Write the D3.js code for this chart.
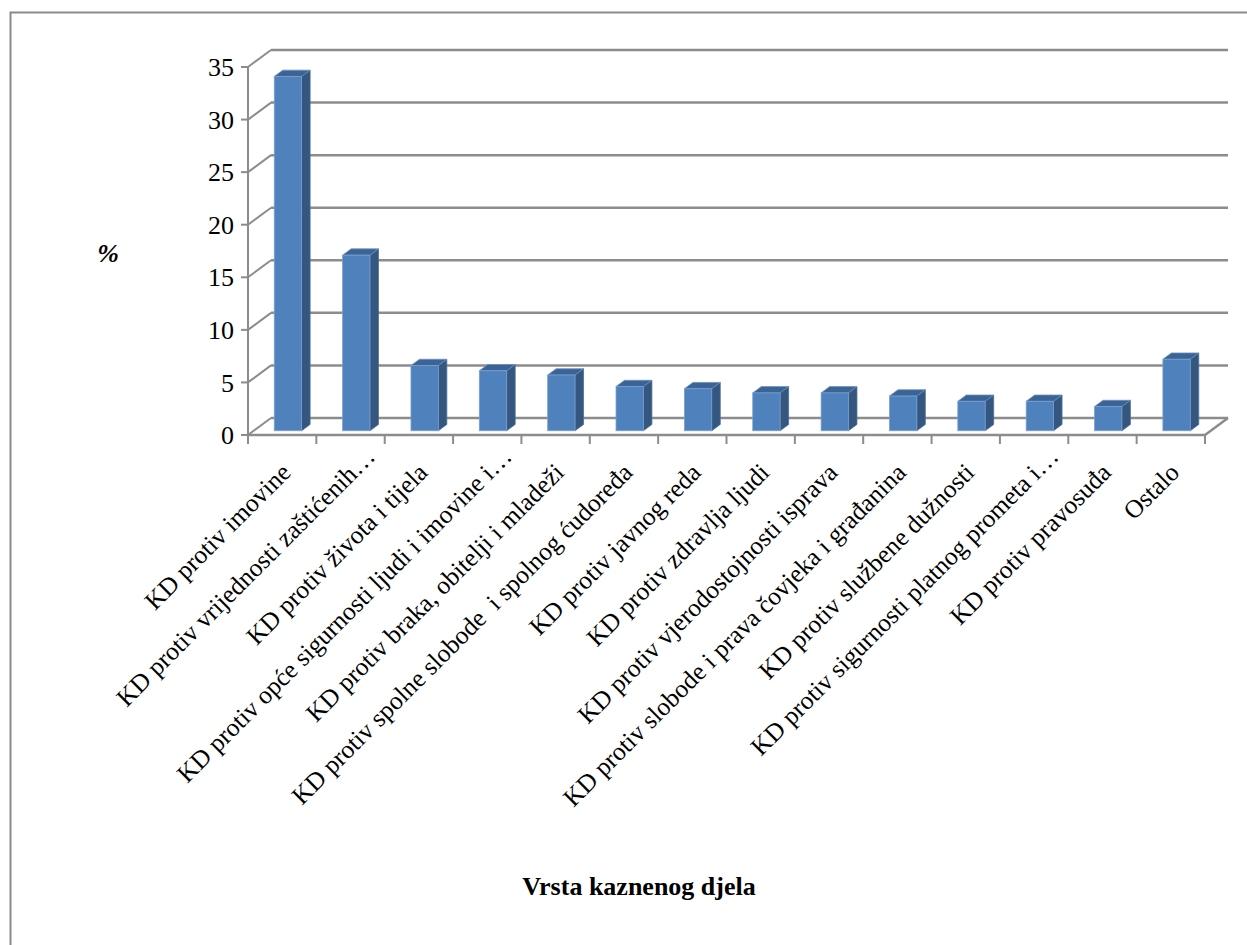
<!DOCTYPE html>
<html>
<head>
<meta charset="utf-8">
<script src="https://cdn.jsdelivr.net/npm/d3@7"></script>
<style>
  body { margin: 0; background: #fff; }
</style>
</head>
<body>
<div id="chart"></div>
<script>
// categories and values (% of criminal offences)
var categories = [
    "KD protiv imovine",
    "KD protiv vrijednosti zaštićenih…",
    "KD protiv života i tijela",
    "KD protiv opće sigurnosti ljudi i imovine i…",
    "KD protiv braka, obitelji i mladeži",
    "KD protiv spolne slobode  i spolnog ćudoređa",
    "KD protiv javnog reda",
    "KD protiv zdravlja ljudi",
    "KD protiv vjerodostojnosti isprava",
    "KD protiv slobode i prava čovjeka i građanina",
    "KD protiv službene dužnosti",
    "KD protiv sigurnosti platnog prometa i…",
    "KD protiv pravosuđa",
    "Ostalo"
];
var values = [33.7, 16.7, 6.2, 5.7, 5.3, 4.2, 4.0, 3.6, 3.6, 3.3, 2.8, 2.8, 2.3, 6.8];
var yTicks = [0, 5, 10, 15, 20, 25, 30, 35];

var width = 1247, height = 945;
var depthX = 23, depthY = -17;   // 3d offset from front to back wall
var d0 = 0.25, d1 = 0.62;        // bar front/back plane in the depth
var serif = "'Liberation Serif', 'Times New Roman', serif";

var svg = d3.select("#chart").append("svg")
    .attr("width", width)
    .attr("height", height)
    .attr("font-family", serif);

// outer border
svg.append("rect")
    .attr("x", 10.5).attr("y", 12.5)
    .attr("width", 1260).attr("height", 960)
    .style("fill", "none")
    .style("stroke", "#8a8a8a")
    .style("stroke-width", 2);

var x = d3.scaleBand()
    .domain(categories)
    .range([248, 1205])
    .paddingInner(0.6)
    .paddingOuter(0.3);

var y = d3.scaleLinear()
    .domain([0, 35])
    .range([435, 67]);

var grid = "#8c8c8c";
var x0 = x.range()[0], x1 = x.range()[1];

// back wall gridlines + left wall diagonals
yTicks.forEach(function(t){
    svg.append("line")
        .attr("x1", x0 + depthX).attr("x2", x1 + depthX)
        .attr("y1", y(t) + depthY).attr("y2", y(t) + depthY)
        .style("stroke", grid).style("stroke-width", 2.5);
    svg.append("line")
        .attr("x1", x0).attr("x2", x0 + depthX)
        .attr("y1", y(t)).attr("y2", y(t) + depthY)
        .style("stroke", grid).style("stroke-width", 2);
});

// floor front edge and right diagonal
svg.append("line")
    .attr("x1", x0).attr("x2", x1)
    .attr("y1", y(0)).attr("y2", y(0))
    .style("stroke", grid).style("stroke-width", 2.5);
svg.append("line")
    .attr("x1", x1).attr("x2", x1 + depthX)
    .attr("y1", y(0)).attr("y2", y(0) + depthY)
    .style("stroke", grid).style("stroke-width", 2.5);

// front vertical axis
svg.append("line")
    .attr("x1", x0).attr("x2", x0)
    .attr("y1", y(35)).attr("y2", y(0))
    .style("stroke", grid).style("stroke-width", 2);
yTicks.forEach(function(t){
    svg.append("line")
        .attr("x1", x0 - 7).attr("x2", x0)
        .attr("y1", y(t)).attr("y2", y(t))
        .style("stroke", grid).style("stroke-width", 2);
});

svg.selectAll(".ytick")
    .data(yTicks)
    .enter().append("text")
    .attr("x", 234)
    .attr("y", function(d){ return y(d); })
    .attr("dy", "0.35em")
    .attr("text-anchor", "end")
    .style("font-size", "26px")
    .text(function(d){ return d; });

// category ticks
d3.range(categories.length + 1).forEach(function(i){
    var tx = x0 + i * (x1 - x0) / categories.length;
    svg.append("line")
        .attr("x1", tx).attr("x2", tx)
        .attr("y1", y(0)).attr("y2", y(0) + 9)
        .style("stroke", grid).style("stroke-width", 2);
});

// bars
var bars = svg.selectAll(".bar")
    .data(values)
    .enter().append("g")
    .attr("class", "bar");

function pt(px, py){ return px + "," + py; }

bars.each(function(v, i){
    var g = d3.select(this);
    var bx = x(categories[i]) + d0 * depthX;
    var bw = x.bandwidth();
    var top = y(v) + d0 * depthY;
    var bot = y(0) + d0 * depthY;
    var ox = (d1 - d0) * depthX, oy = (d1 - d0) * depthY;
    // right side
    g.append("polygon")
        .attr("points", [pt(bx + bw, top), pt(bx + bw + ox, top + oy),
                         pt(bx + bw + ox, bot + oy), pt(bx + bw, bot)].join(" "))
        .style("fill", "#34567f")
        .style("stroke", "#4a6f9c").style("stroke-width", 0.8);
    // top
    g.append("polygon")
        .attr("points", [pt(bx, top), pt(bx + ox, top + oy),
                         pt(bx + bw + ox, top + oy), pt(bx + bw, top)].join(" "))
        .style("fill", "#3b6496")
        .style("stroke", "#6c8fbd").style("stroke-width", 0.8);
    // front
    g.append("rect")
        .attr("x", bx).attr("y", top)
        .attr("width", bw).attr("height", bot - top)
        .style("fill", "#4f81bd")
        .style("stroke", "#7a9fcf").style("stroke-width", 0.8);
});

// category labels (truncated ones sit a bit further up the diagonal)
svg.selectAll(".xlabel")
    .data(categories)
    .enter().append("text")
    .attr("text-anchor", "end")
    .style("font-size", "25.5px")
    .style("white-space", "pre")
    .attr("transform", function(d){
        var shift = d.slice(-1) === "…" ? 16 : 0;
        var cx = x(d) + x.bandwidth() / 2 + 10 + shift;
        return "translate(" + cx + "," + (474 - shift) + ") rotate(-45)";
    })
    .text(function(d){ return d; });

// axis titles
svg.append("text")
    .attr("x", 108).attr("y", 262)
    .attr("text-anchor", "middle")
    .style("font-size", "26px")
    .style("font-style", "italic")
    .style("font-weight", "bold")
    .text("%");

svg.append("text")
    .attr("x", 639).attr("y", 895)
    .attr("text-anchor", "middle")
    .style("font-size", "26px")
    .style("font-weight", "bold")
    .text("Vrsta kaznenog djela");
</script>
</body>
</html>
